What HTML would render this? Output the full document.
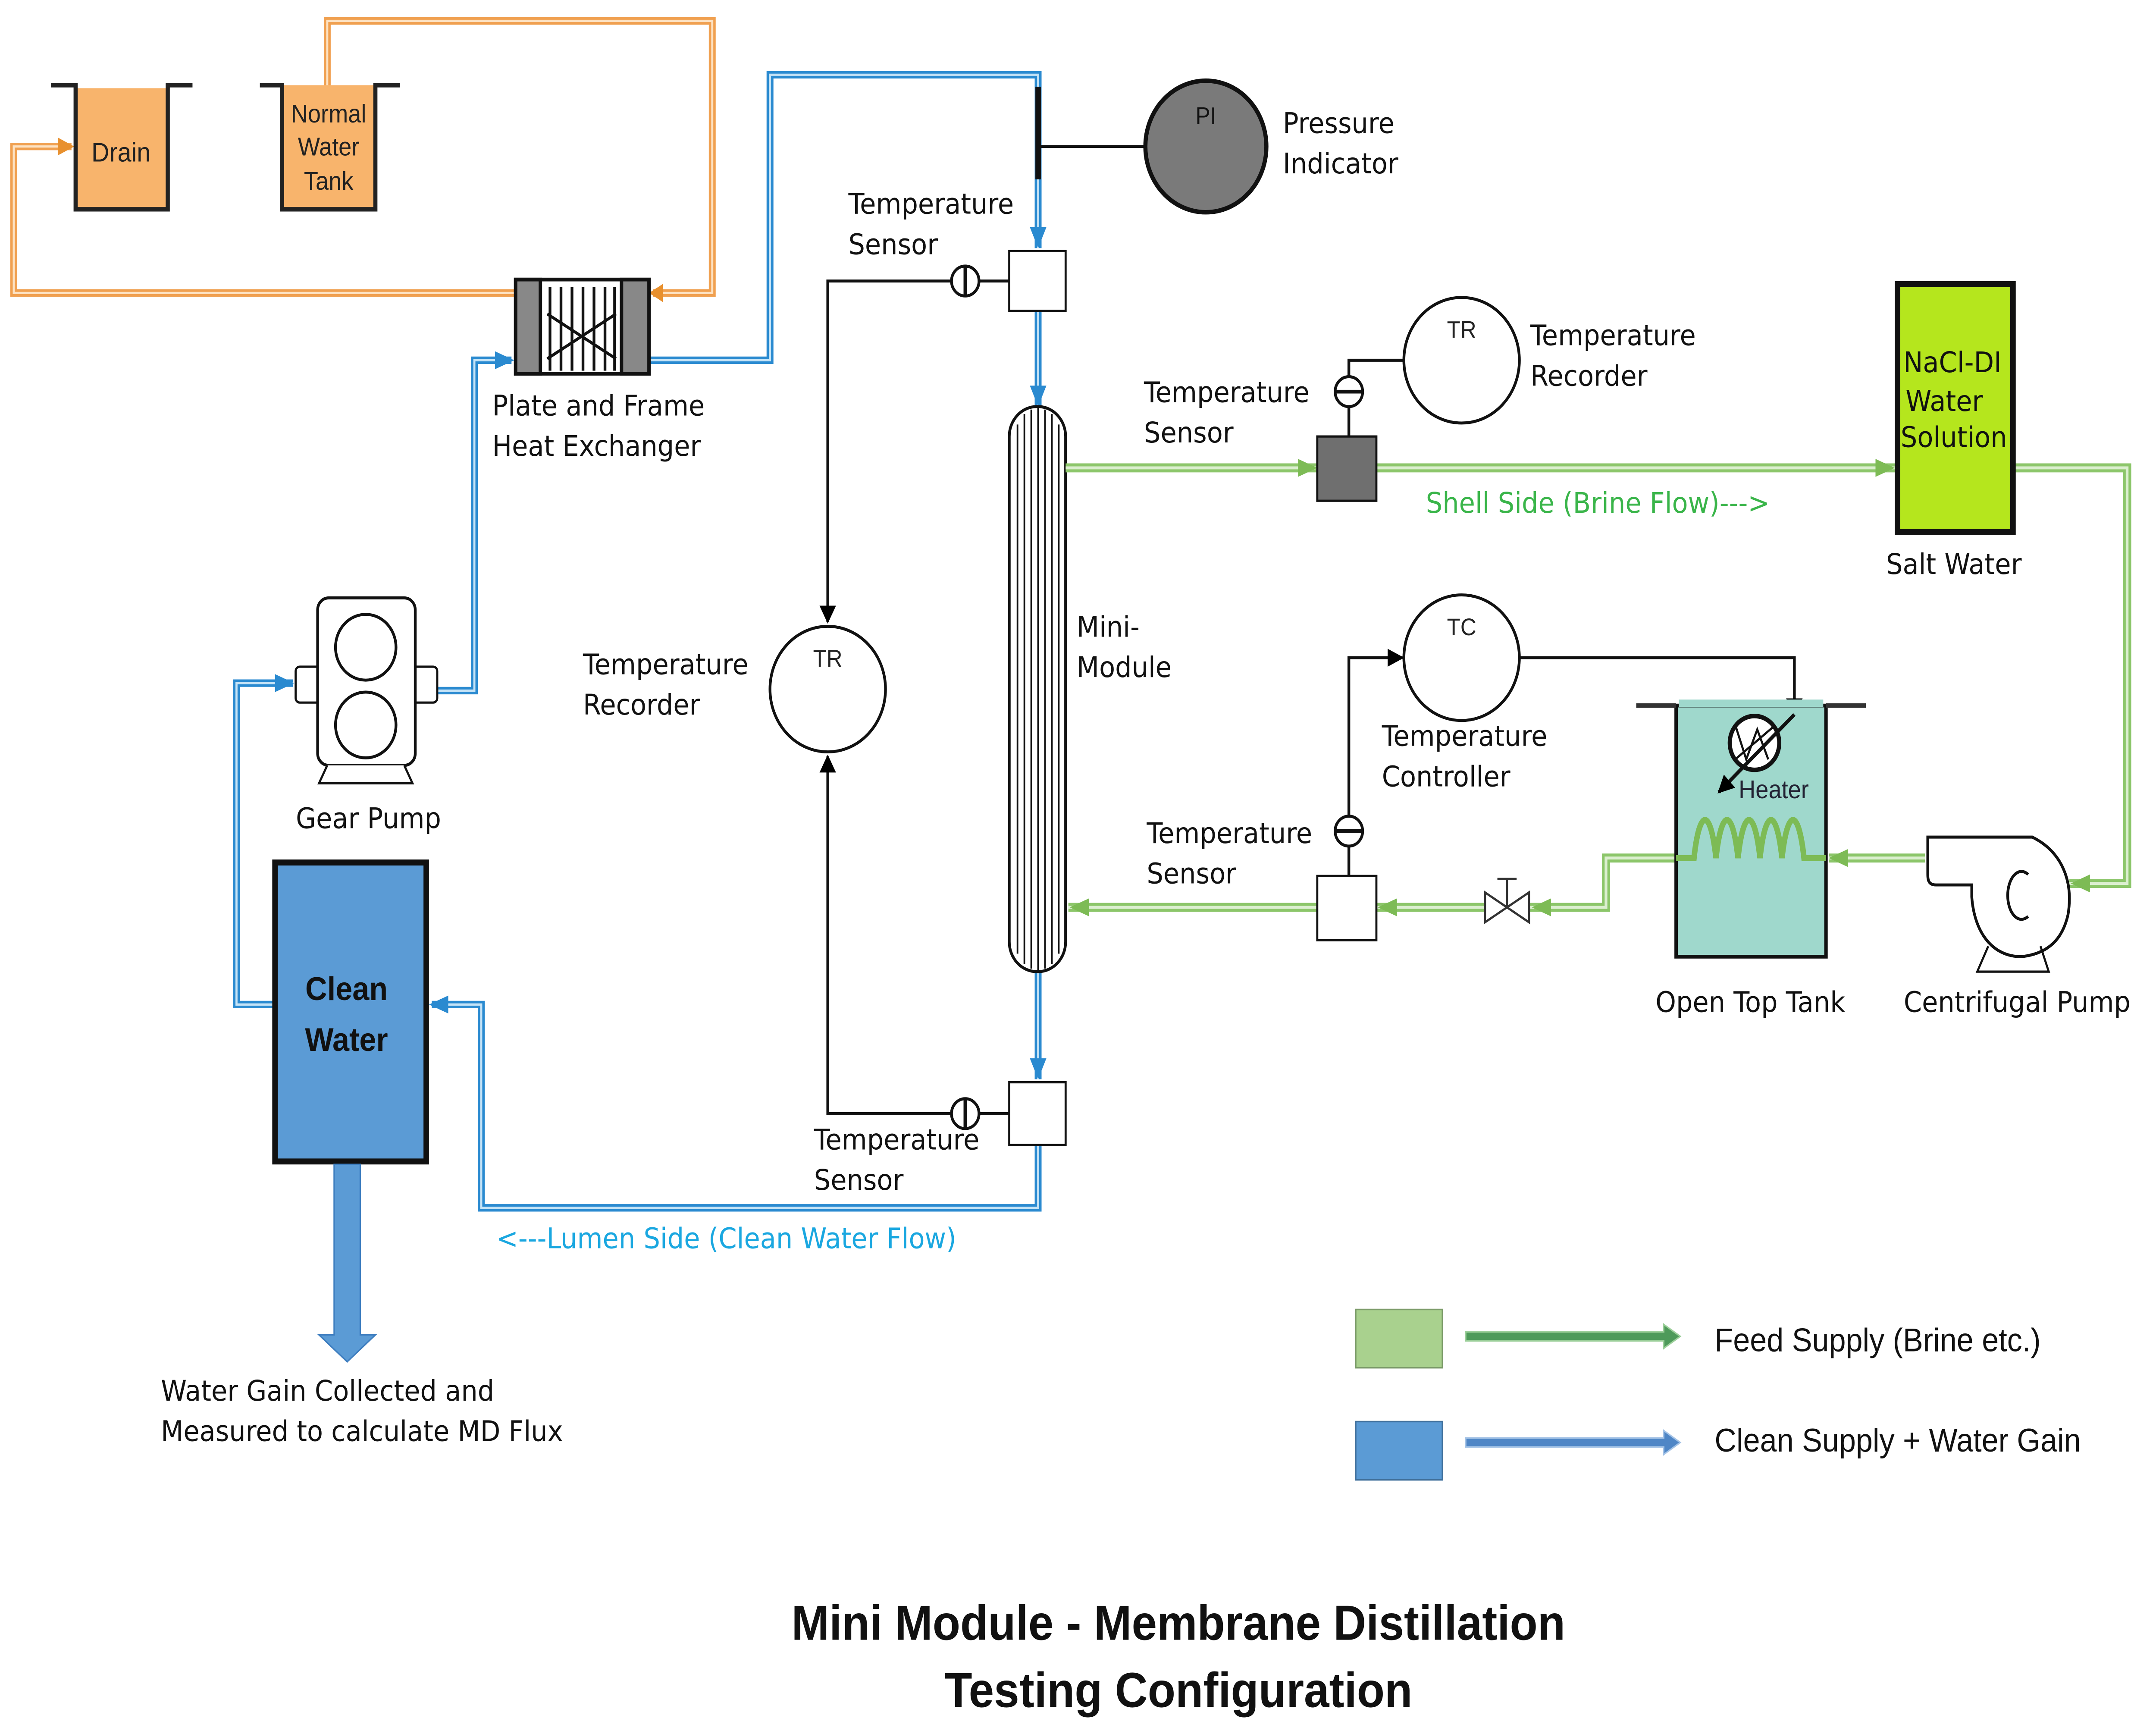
<!DOCTYPE html>
<html><head><meta charset="utf-8"><style>
html,body{margin:0;padding:0;background:#fff;width:100%;height:100%;overflow:hidden;}
svg{display:block;width:100vw;height:100vh;}
text{font-family:"Liberation Sans","DejaVu Sans",sans-serif;}
.l{font-family:"DejaVu Sans","Liberation Sans",sans-serif;font-size:19px;fill:#111;}
</style></head><body>
<svg viewBox="0 0 1568 1158" preserveAspectRatio="none" xmlns="http://www.w3.org/2000/svg">
<rect width="1568" height="1158" fill="#fff"/>
<defs>
<marker id="ak" viewBox="0 0 10 10" markerWidth="12" markerHeight="12" refX="9" refY="5" orient="auto" markerUnits="userSpaceOnUse"><path d="M0,0 L10,5 L0,10 z" fill="#000"/></marker>
</defs>
<!-- orange pipes -->
<g fill="none" stroke-linejoin="miter">
<path d="M238,57 V14 H518 V196 H475" stroke="#f0a050" stroke-width="5"/>
<path d="M238,57 V14 H518 V196 H475" stroke="#fde3c4" stroke-width="1.5"/>
<path d="M375,196 H10 V98 H52" stroke="#f0a050" stroke-width="5"/>
<path d="M375,196 H10 V98 H52" stroke="#fde3c4" stroke-width="1.5"/>
</g>
<path d="M482,190 L472,196 L482,202 z" fill="#e8902e"/>
<path d="M42,92 L54,98 L42,104 z" fill="#e8902e"/>
<!-- tanks -->
<rect x="55" y="57" width="67" height="83" fill="#f8b46c" stroke="#222" stroke-width="2.5"/>
<rect x="55" y="54" width="67" height="5" fill="#fff"/>
<path d="M37,57 H55 V140 H122 V57 H140" fill="none" stroke="#222" stroke-width="3"/>
<text x="88" y="108" font-size="18" text-anchor="middle" fill="#222">Drain</text>
<rect x="205" y="57" width="68" height="83" fill="#f8b46c"/>
<path d="M189,57 H205 V140 H273 V57 H291" fill="none" stroke="#222" stroke-width="3"/>
<text font-size="17" text-anchor="middle" fill="#222"><tspan x="239" y="82">Normal</tspan><tspan x="239" y="104">Water</tspan><tspan x="239" y="127">Tank</tspan></text>
<!-- blue pipes -->
<g fill="none">
<path d="M472,241 H560 V50 H755 V166" stroke="#2a8ad0" stroke-width="5"/>
<path d="M472,241 H560 V50 H755 V166" stroke="#c6e4f7" stroke-width="1.5"/>
<path d="M318,462 H345 V241 H372" stroke="#2a8ad0" stroke-width="5"/>
<path d="M318,462 H345 V241 H372" stroke="#c6e4f7" stroke-width="1.5"/>
<path d="M755,208 V272" stroke="#2a8ad0" stroke-width="5"/><path d="M755,208 V272" stroke="#c6e4f7" stroke-width="1.5"/>
<path d="M755,650 V722" stroke="#2a8ad0" stroke-width="5"/><path d="M755,650 V722" stroke="#c6e4f7" stroke-width="1.5"/>
<path d="M755,766 V808 H350 V672 H314" stroke="#2a8ad0" stroke-width="5"/>
<path d="M755,766 V808 H350 V672 H314" stroke="#c6e4f7" stroke-width="1.5"/>
<path d="M199,672 H172 V457 H213" stroke="#2a8ad0" stroke-width="5"/>
<path d="M199,672 H172 V457 H213" stroke="#c6e4f7" stroke-width="1.5"/>
</g>
<path d="M749,152 L755,166 L761,152 z" fill="#2a8ad0"/>
<path d="M749,258 L755,272 L761,258 z" fill="#2a8ad0"/>
<path d="M749,708 L755,722 L761,708 z" fill="#2a8ad0"/>
<path d="M326,666 L312,672 L326,678 z" fill="#2a8ad0"/>
<path d="M200,451 L214,457 L200,463 z" fill="#2a8ad0"/>
<path d="M360,235 L374,241 L360,247 z" fill="#2a8ad0"/>
<!-- heat exchanger -->
<rect x="375" y="187" width="97" height="63" fill="#fff" stroke="#111" stroke-width="2.5"/>
<rect x="375" y="187" width="18" height="63" fill="#888" stroke="#111" stroke-width="2.5"/>
<rect x="452" y="187" width="20" height="63" fill="#888" stroke="#111" stroke-width="2.5"/>
<g stroke="#111" stroke-width="2">
<path d="M400,192 V248 M408,192 V248 M416,192 V248 M424,192 V248 M432,192 V248 M440,192 V248 M447,192 V248"/>
<path d="M398,210 L448,240 M398,240 L448,210"/>
</g>
<text class="l"><tspan x="358" y="278">Plate and Frame</tspan><tspan x="358" y="305">Heat Exchanger</tspan></text>
<!-- pressure indicator -->
<path d="M755,58 V120" stroke="#111" stroke-width="4"/>
<path d="M755,98 H833" stroke="#111" stroke-width="2"/>
<circle cx="877" cy="98" r="44" fill="#7a7a7a" stroke="#111" stroke-width="3"/>
<text x="877" y="83" font-size="16" text-anchor="middle" fill="#111">PI</text>
<text class="l"><tspan x="933" y="89">Pressure</tspan><tspan x="933" y="116">Indicator</tspan></text>
<!-- top temp sensor -->
<rect x="734" y="168" width="41" height="40" fill="#fff" stroke="#111" stroke-width="1.5"/>
<circle cx="702" cy="188" r="10" fill="#fff" stroke="#111" stroke-width="2"/>
<path d="M702,178 V198" stroke="#111" stroke-width="2.5"/>
<path d="M712,188 H734" stroke="#111" stroke-width="2"/>
<path d="M692,188 H602 V416" fill="none" stroke="#111" stroke-width="2" marker-end="url(#ak)"/>
<text class="l"><tspan x="617" y="143">Temperature</tspan><tspan x="617" y="170">Sensor</tspan></text>
<!-- TR left -->
<circle cx="602" cy="461" r="42" fill="#fff" stroke="#111" stroke-width="2"/>
<text x="602" y="446" font-size="16" text-anchor="middle" fill="#222">TR</text>
<text class="l"><tspan x="424" y="451">Temperature</tspan><tspan x="424" y="478">Recorder</tspan></text>
<!-- bottom sensor -->
<rect x="734" y="724" width="41" height="42" fill="#fff" stroke="#111" stroke-width="1.5"/>
<circle cx="702" cy="745" r="10" fill="#fff" stroke="#111" stroke-width="2"/>
<path d="M702,735 V755" stroke="#111" stroke-width="2.5"/>
<path d="M712,745 H734" stroke="#111" stroke-width="2"/>
<path d="M692,745 H602 V506" fill="none" stroke="#111" stroke-width="2" marker-end="url(#ak)"/>
<text class="l"><tspan x="592" y="769">Temperature</tspan><tspan x="592" y="796">Sensor</tspan></text>
<!-- mini module -->
<rect x="734" y="272" width="41" height="378" rx="20" fill="#fff" stroke="#111" stroke-width="2"/>
<g stroke="#111" stroke-width="1.2">
<path d="M740,284 V638 M745,277 V645 M750,274 V648 M755,273 V649 M760,274 V648 M765,277 V645 M770,284 V638"/>
</g>
<text class="l"><tspan x="783" y="426">Mini-</tspan><tspan x="783" y="453">Module</tspan></text>
<!-- green pipes -->
<g fill="none">
<path d="M775,313 H958 M1001,313 H1378" stroke="#8cc66a" stroke-width="6"/>
<path d="M775,313 H958 M1001,313 H1378" stroke="#dcefd0" stroke-width="2"/>
<path d="M1464,313 H1547 V591 H1505" stroke="#8cc66a" stroke-width="6"/>
<path d="M1464,313 H1547 V591 H1505" stroke="#dcefd0" stroke-width="2"/>
<path d="M1400,574 H1330 M1219,574 H1168 V607 H1112 M1080,607 H1001 M958,607 H777" stroke="#8cc66a" stroke-width="6"/>
<path d="M1400,574 H1330 M1219,574 H1168 V607 H1112 M1080,607 H1001 M958,607 H777" stroke="#dcefd0" stroke-width="2"/>
</g>
<g fill="#7dbb55">
<path d="M944,307 L958,313 L944,319 z"/><path d="M1364,307 L1378,313 L1364,319 z"/>
<path d="M1520,585 L1506,591 L1520,597 z"/><path d="M1344,568 L1330,574 L1344,580 z"/>
<path d="M1128,601 L1114,607 L1128,613 z"/><path d="M1016,601 L1002,607 L1016,613 z"/>
<path d="M792,601 L778,607 L792,613 z"/>
</g>
<!-- right top sensor -->
<rect x="958" y="292" width="43" height="43" fill="#6f6f6f" stroke="#111" stroke-width="1.5"/>
<path d="M981,272 V292" stroke="#111" stroke-width="2"/>
<circle cx="981" cy="262" r="10" fill="#fff" stroke="#111" stroke-width="2"/>
<path d="M971,262 H991" stroke="#111" stroke-width="2.5"/>
<path d="M981,252 V241 H1021" fill="none" stroke="#111" stroke-width="2"/>
<circle cx="1063" cy="241" r="42" fill="#fff" stroke="#111" stroke-width="2"/>
<text x="1063" y="226" font-size="16" text-anchor="middle" fill="#222">TR</text>
<text class="l"><tspan x="832" y="269">Temperature</tspan><tspan x="832" y="296">Sensor</tspan></text>
<text class="l"><tspan x="1113" y="231">Temperature</tspan><tspan x="1113" y="258">Recorder</tspan></text>
<text class="l" x="1037" y="343" style="fill:#3ab54a">Shell Side (Brine Flow)---&gt;</text>
<!-- NaCl -->
<rect x="1380" y="190" width="84" height="166" fill="#b5e61d" stroke="#111" stroke-width="4"/>
<text class="l" text-anchor="middle"><tspan x="1420" y="249">NaCl-DI</tspan><tspan x="1414" y="275">Water</tspan><tspan x="1421" y="299">Solution</tspan></text>
<text class="l" x="1421" y="384" text-anchor="middle">Salt Water</text>
<!-- lower right sensor -->
<rect x="958" y="586" width="43" height="43" fill="#fff" stroke="#111" stroke-width="1.5"/>
<path d="M981,566 V586" stroke="#111" stroke-width="2"/>
<circle cx="981" cy="556" r="10" fill="#fff" stroke="#111" stroke-width="2"/>
<path d="M971,556 H991" stroke="#111" stroke-width="2.5"/>
<path d="M981,546 V440 H1020" fill="none" stroke="#111" stroke-width="2" marker-end="url(#ak)"/>
<circle cx="1063" cy="440" r="42" fill="#fff" stroke="#111" stroke-width="2"/>
<text x="1063" y="425" font-size="16" text-anchor="middle" fill="#222">TC</text>
<path d="M1105,440 H1305 V478" fill="none" stroke="#111" stroke-width="2" marker-end="url(#ak)"/>
<text class="l"><tspan x="834" y="564">Temperature</tspan><tspan x="834" y="591">Sensor</tspan></text>
<text class="l"><tspan x="1005" y="499">Temperature</tspan><tspan x="1005" y="526">Controller</tspan></text>
<!-- valve -->
<path d="M1080,597 L1112,617 L1112,597 L1080,617 z" fill="#fff" stroke="#333" stroke-width="1.5"/>
<path d="M1096,607 V588 M1089,588 H1103" stroke="#333" stroke-width="1.5"/>
<!-- open top tank -->
<rect x="1219" y="472" width="109" height="168" fill="#9fd8cc" stroke="#111" stroke-width="2.5"/>
<rect x="1221" y="468" width="105" height="5" fill="#9fd8cc"/>
<path d="M1190,472 H1219 M1328,472 H1357" stroke="#333" stroke-width="3"/>
<path d="M1219,574 H1232 C1236,540 1244,540 1248,574 C1252,540 1260,540 1264,574 C1268,540 1276,540 1280,574 C1284,540 1292,540 1296,574 C1300,540 1308,540 1312,574 H1328" fill="none" stroke="#7dbb55" stroke-width="4"/>
<circle cx="1276" cy="497" r="18" fill="#fff" stroke="#111" stroke-width="3"/>
<path d="M1262,485 L1270,508 L1278,488 L1286,508 M1262,508 L1290,486" fill="none" stroke="#111" stroke-width="1.5"/>
<path d="M1305,478 L1250,530" stroke="#111" stroke-width="2.5" marker-end="url(#ak)"/>
<text x="1290" y="534" font-size="17" text-anchor="middle" fill="#223">Heater</text>
<text class="l" x="1273" y="677" text-anchor="middle">Open Top Tank</text>
<!-- centrifugal pump -->
<path d="M1402,560 H1478 C1500,570 1508,590 1504,612 C1500,628 1490,638 1470,640 C1450,640 1436,625 1434,600 V592 H1408 C1402,592 1402,588 1402,584 z" fill="#fff" stroke="#111" stroke-width="2"/>
<path d="M1475,585 A10,16 0 1 0 1475,613" fill="none" stroke="#111" stroke-width="2"/>
<path d="M1446,633 L1438,650 H1490 L1484,633" fill="none" stroke="#111" stroke-width="1.5"/>
<text class="l" x="1467" y="677" text-anchor="middle">Centrifugal Pump</text>
<!-- gear pump -->
<rect x="215" y="446" width="18" height="24" rx="3" fill="#fff" stroke="#111" stroke-width="1.5"/>
<rect x="300" y="446" width="18" height="24" rx="3" fill="#fff" stroke="#111" stroke-width="1.5"/>
<rect x="231" y="400" width="71" height="112" rx="8" fill="#fff" stroke="#111" stroke-width="2"/>
<circle cx="266" cy="433" r="22" fill="#fff" stroke="#111" stroke-width="2"/>
<circle cx="266" cy="485" r="22" fill="#fff" stroke="#111" stroke-width="2"/>
<path d="M238,512 L232,524 H300 L294,512" fill="#fff" stroke="#111" stroke-width="1.5"/>
<text class="l" x="268" y="554" text-anchor="middle">Gear Pump</text>
<!-- clean water -->
<rect x="200" y="577" width="110" height="200" fill="#5b9bd5" stroke="#111" stroke-width="4"/>
<text font-size="22" font-weight="bold" text-anchor="middle" fill="#111"><tspan x="252" y="669">Clean</tspan><tspan x="252" y="703">Water</tspan></text>
<path d="M243,779 H262 V893 H273 L252.5,911 L232,893 H243 z" fill="#5b9bd5" stroke="#3d7dbf" stroke-width="1"/>
<text class="l"><tspan x="117" y="937">Water Gain Collected and</tspan><tspan x="117" y="964">Measured to calculate MD Flux</tspan></text>
<text class="l" x="361" y="835" style="fill:#1aa7e0">&lt;---Lumen Side (Clean Water Flow)</text>
<!-- legend -->
<rect x="986" y="876" width="63" height="39" fill="#a9d18e" stroke="#7a9a68" stroke-width="1"/>
<path d="M1066,891 H1210 V886 L1222,894 L1210,902 V897 H1066 z" fill="#4e9a5a" stroke="#9ccf9a" stroke-width="1"/>
<text x="1247" y="904" font-size="22" fill="#111">Feed Supply (Brine etc.)</text>
<rect x="986" y="951" width="63" height="39" fill="#5b9bd5" stroke="#41719c" stroke-width="1"/>
<path d="M1066,962 H1210 V957 L1222,965 L1210,973 V968 H1066 z" fill="#4f86c6" stroke="#a4c3e6" stroke-width="1"/>
<text x="1247" y="971" font-size="22" fill="#111">Clean Supply + Water Gain</text>
<!-- title -->
<text font-size="33" font-weight="bold" text-anchor="middle" fill="#111"><tspan x="857" y="1097">Mini Module - Membrane Distillation</tspan><tspan x="857" y="1142">Testing Configuration</tspan></text>
</svg>
</body></html>
